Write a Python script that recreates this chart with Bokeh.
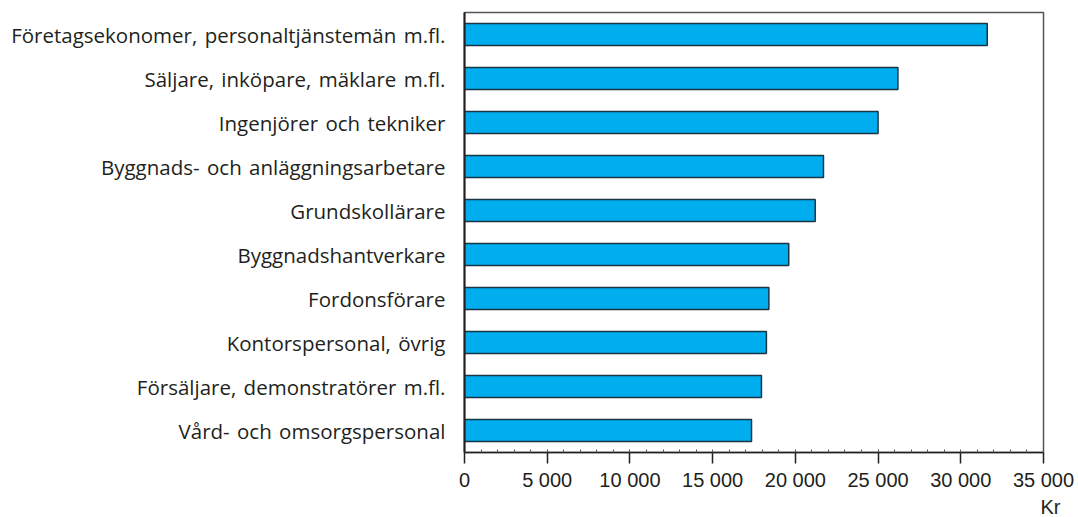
from bokeh.plotting import figure
from bokeh.models import FactorRange, FixedTicker, Title, ColumnDataSource
from bokeh.embed import file_html
from bokeh.resources import INLINE

S = "\u200a "
categories = [
    f"Företagsekonomer,{S}personaltjänstemän{S}m.fl.",
    f"Säljare,{S}inköpare,{S}mäklare{S}m.fl.",
    f"Ingenjörer{S}och{S}tekniker",
    f"Byggnads-{S}och{S}anläggningsarbetare",
    "Grundskollärare",
    "Byggnadshantverkare",
    "Fordonsförare",
    f"Kontorspersonal,{S}övrig",
    f"Försäljare,{S}demonstratörer{S}m.fl.",
    f"Vård-{S}och{S}omsorgspersonal",
]
values = [31600, 26200, 25000, 21700, 21200, 19600, 18400, 18250, 17950, 17350]
x_ticks = [0, 5000, 10000, 15000, 20000, 25000, 30000, 35000]
x_tick_labels = ["0", "5 000", "10 000", "15 000", "20 000", "25 000", "30 000", "35 000"]
unit_label = "Kr"

factors = list(reversed(categories))
src = ColumnDataSource(dict(cat=categories, val=values))

p = figure(width=1076, height=517, y_range=FactorRange(factors=factors, range_padding=0),
           x_range=(0, 35000), output_backend="svg", toolbar_location=None,
           min_border_left=464, min_border_right=33, min_border_top=12, min_border_bottom=65)

p.hbar(y="cat", right="val", left=0, height=0.5, source=src,
       fill_color="#00AEEF", line_color="#1a3646", line_width=1.5)

p.grid.visible = False
p.outline_line_color = "#555555"
p.outline_line_width = 1.5

xa = p.xaxis[0]
xa.ticker = FixedTicker(ticks=x_ticks, minor_ticks=list(range(0, 35001, 1000)))
xa.major_label_overrides = {t: l for t, l in zip(x_ticks, x_tick_labels)}
xa.major_tick_out = 11
xa.major_tick_in = 0
xa.minor_tick_in = 3
xa.minor_tick_out = 0
xa.axis_line_color = "#231f20"
xa.major_tick_line_color = "#231f20"
xa.minor_tick_line_color = "#555555"
xa.axis_line_width = 1.5
xa.major_tick_line_width = 1.5
xa.major_label_text_font = "Liberation Sans"
xa.major_label_text_font_size = "20px"
xa.major_label_text_color = "#231f20"
xa.major_label_standoff = 5

ya = p.yaxis[0]
ya.major_tick_line_color = None
ya.minor_tick_line_color = None
ya.major_tick_out = 0
ya.major_tick_in = 0
ya.axis_line_color = "#231f20"
ya.axis_line_width = 2
ya.major_label_text_font = "Open Sans"
ya.major_label_text_font_size = "20.5px"
ya.major_label_text_color = "#231f20"
ya.major_label_standoff = 19

kr = Title(text=unit_label, align="right", offset=-17, standoff=0,
           text_font="Liberation Sans", text_font_size="20px",
           text_font_style="normal", text_color="#231f20")
p.add_layout(kr, "below")

open("out.html", "w").write(file_html(p, INLINE))
